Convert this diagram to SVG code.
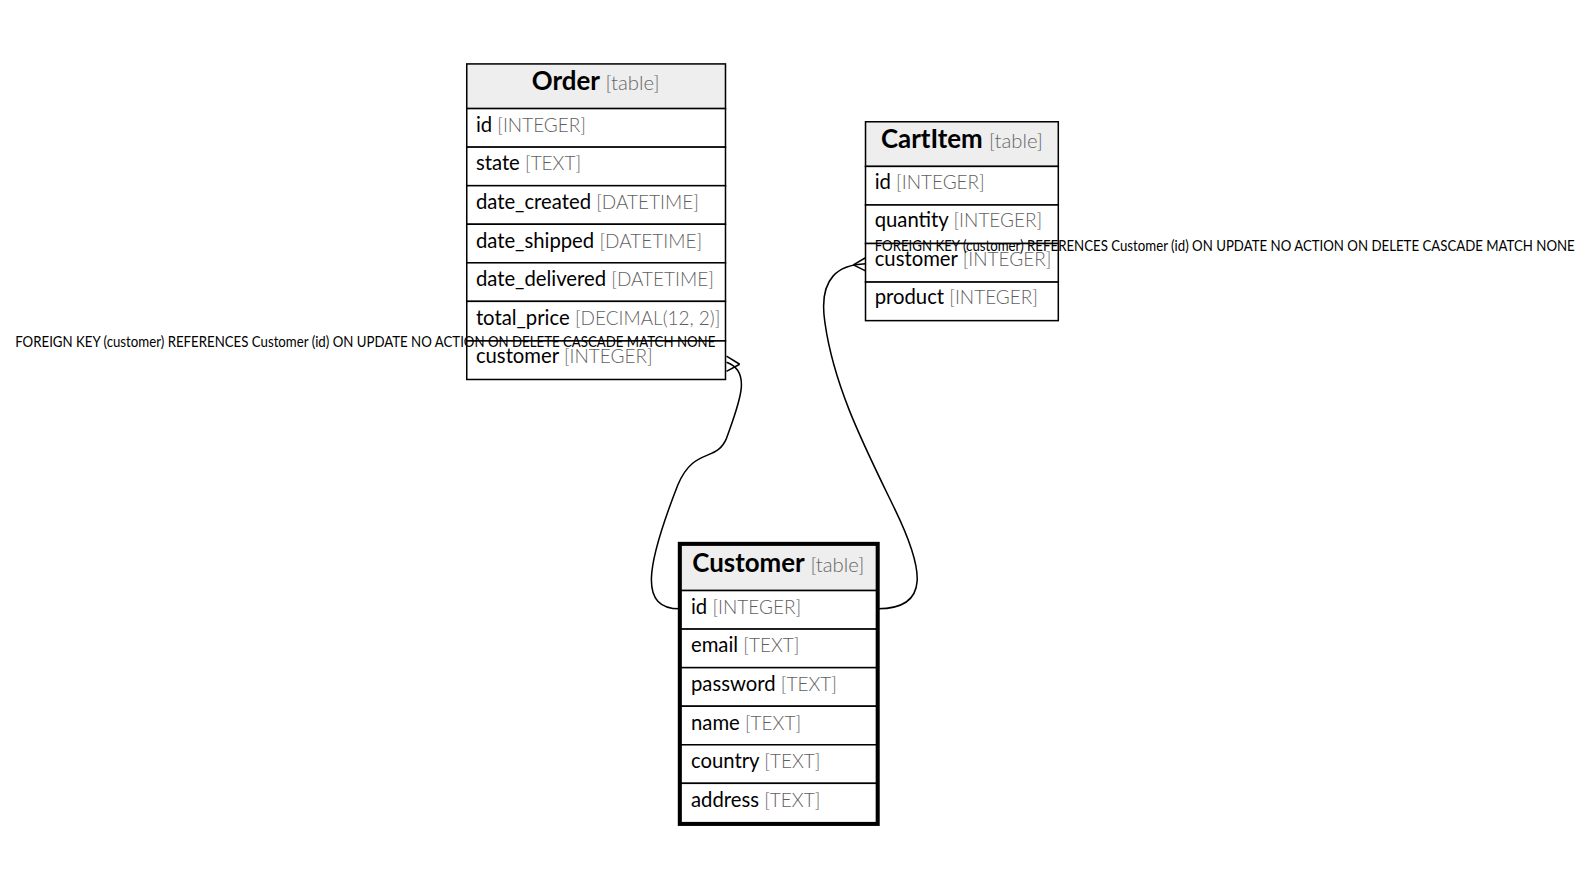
<svg xmlns="http://www.w3.org/2000/svg" width="1591" height="889" viewBox="0 0 1591 889">
<style>
text{font-family:Lato,"Liberation Sans",sans-serif;}
.hd{fill:#eeeeee;stroke:#000;stroke-width:1.5}
.row{fill:#fff;stroke:#000;stroke-width:1.5}
.thick{fill:none;stroke:#000;stroke-width:4}
.title{font-size:25.5px;font-weight:bold;fill:#000}
.tt{font-size:20px;font-weight:300;fill:#666}
.f{font-size:20px;fill:#000}
.ty{fill:#5f5f5f;font-weight:300;font-size:18.7px}
.lbl{font-size:14.5px;fill:#000}
.edge{fill:none;stroke:#000;stroke-width:1.5}
</style>
<rect width="1591" height="889" fill="#fff"/>
<g transform="scale(1.01467)">
<g id="Order">
<rect class="hd" x="460" y="63" width="255" height="44"/>
<rect class="row" x="460" y="107" width="255" height="38"/>
<rect class="row" x="460" y="145" width="255" height="38"/>
<rect class="row" x="460" y="183" width="255" height="38"/>
<rect class="row" x="460" y="221" width="255" height="38"/>
<rect class="row" x="460" y="259" width="255" height="38"/>
<rect class="row" x="460" y="297" width="255" height="39"/>
<rect class="row" x="460" y="336" width="255" height="38"/>
<text class="title" x="587" y="89" text-anchor="middle">Order <tspan class="tt">[table]</tspan></text>
<text class="f" x="469" y="130">id <tspan class="ty">[INTEGER]</tspan></text>
<text class="f" x="469" y="168">state <tspan class="ty">[TEXT]</tspan></text>
<text class="f" x="469" y="206">date_created <tspan class="ty">[DATETIME]</tspan></text>
<text class="f" x="469" y="244">date_shipped <tspan class="ty">[DATETIME]</tspan></text>
<text class="f" x="469" y="282">date_delivered <tspan class="ty">[DATETIME]</tspan></text>
<text class="f" x="469" y="320">total_price <tspan class="ty">[DECIMAL(12, 2)]</tspan></text>
<text class="f" x="469" y="358">customer <tspan class="ty">[INTEGER]</tspan></text>
</g>
<g id="CartItem">
<rect class="hd" x="853" y="120" width="190" height="44"/>
<rect class="row" x="853" y="164" width="190" height="38"/>
<rect class="row" x="853" y="202" width="190" height="38"/>
<rect class="row" x="853" y="240" width="190" height="38"/>
<rect class="row" x="853" y="278" width="190" height="38"/>
<text class="title" x="948" y="146" text-anchor="middle">CartItem <tspan class="tt">[table]</tspan></text>
<text class="f" x="862" y="186">id <tspan class="ty">[INTEGER]</tspan></text>
<text class="f" x="862" y="224">quantity <tspan class="ty">[INTEGER]</tspan></text>
<text class="f" x="862" y="262">customer <tspan class="ty">[INTEGER]</tspan></text>
<text class="f" x="862" y="300">product <tspan class="ty">[INTEGER]</tspan></text>
</g>
<g id="Customer">
<rect class="hd" x="670" y="536" width="195" height="46"/>
<rect class="row" x="670" y="582" width="195" height="38"/>
<rect class="row" x="670" y="620" width="195" height="38"/>
<rect class="row" x="670" y="658" width="195" height="38"/>
<rect class="row" x="670" y="696" width="195" height="38"/>
<rect class="row" x="670" y="734" width="195" height="38"/>
<rect class="row" x="670" y="772" width="195" height="40"/>
<rect class="thick" x="670" y="536" width="195" height="276"/>
<text class="title" x="767" y="564" text-anchor="middle">Customer <tspan class="tt">[table]</tspan></text>
<text class="f" x="681" y="605">id <tspan class="ty">[INTEGER]</tspan></text>
<text class="f" x="681" y="643">email <tspan class="ty">[TEXT]</tspan></text>
<text class="f" x="681" y="681">password <tspan class="ty">[TEXT]</tspan></text>
<text class="f" x="681" y="719">name <tspan class="ty">[TEXT]</tspan></text>
<text class="f" x="681" y="757">country <tspan class="ty">[TEXT]</tspan></text>
<text class="f" x="681" y="795">address <tspan class="ty">[TEXT]</tspan></text>
</g>
<g id="connectors">
<path class="edge" d="M670 600 C630 600 636 560 668 478 C684 440 706 456 716 432 C728 398 742 366 716 357"/>
<path class="edge" d="M729 359 L716 351 M729 359 L716 366" stroke-width="2"/>
<path class="edge" d="M865 600 C918 600 910 560 882 502 C852 440 822 382 813 318 C806 272 828 261 853 260"/>
<path class="edge" d="M841 261 L853 254 M841 261 L853 267" stroke-width="2"/>
<text class="lbl" x="15" y="342" textLength="690" lengthAdjust="spacingAndGlyphs">FOREIGN KEY (customer) REFERENCES Customer (id) ON UPDATE NO ACTION ON DELETE CASCADE MATCH NONE</text>
<text class="lbl" x="862" y="247" textLength="690" lengthAdjust="spacingAndGlyphs">FOREIGN KEY (customer) REFERENCES Customer (id) ON UPDATE NO ACTION ON DELETE CASCADE MATCH NONE</text>
</g>
</g>
</svg>
